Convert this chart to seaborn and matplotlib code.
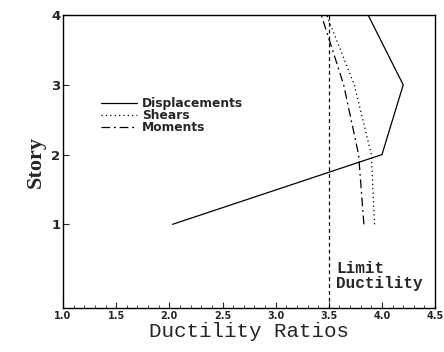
import matplotlib
matplotlib.use("Agg")
import matplotlib.pyplot as plt
import numpy as np
import pandas as pd
import seaborn as sns
from matplotlib.ticker import MultipleLocator

stories = [1, 2, 3, 4]
displacements = [2.03, 4.0, 4.2, 3.87]
shears = [3.93, 3.90, 3.74, 3.48]
moments = [3.83, 3.78, 3.64, 3.43]
limit_ductility = 3.5
x_ticks = [1.0, 1.5, 2.0, 2.5, 3.0, 3.5, 4.0, 4.5]

df = pd.concat([
    pd.DataFrame({"ductility": displacements, "story": stories, "type": "Displacements"}),
    pd.DataFrame({"ductility": shears, "story": stories, "type": "Shears"}),
    pd.DataFrame({"ductility": moments, "story": stories, "type": "Moments"}),
], ignore_index=True)

sns.set_style("ticks")
plt.rcParams["font.family"] = ["DejaVu Sans"]

fig = plt.figure(figsize=(4.44, 3.52), dpi=100)
ax = fig.add_axes([0.142, 0.125, 0.838, 0.832])

sns.lineplot(data=df, x="ductility", y="story", hue="type", style="type",
             palette=["black"] * 3, sort=False, estimator=None, linewidth=0.9,
             dashes={"Displacements": "", "Shears": (1, 2.5), "Moments": (7, 3, 1.5, 3)},
             ax=ax)

ax.axvline(limit_ductility, color="black", linestyle=(0, (3, 2.5)), linewidth=0.9)
ax.text(3.57, 0.05, "Limit\nDuctility", fontsize=11.5, fontweight="bold",
        family="Liberation Mono", linespacing=1.0, va="bottom", ha="left")

ax.set_xlim(1.0, 4.5)
ax.set_ylim(-0.2, 4.0)
ax.set_xticks(x_ticks)
ax.set_xticklabels([f"{t:.1f}" for t in x_ticks], fontsize=7, fontweight="bold")
ax.xaxis.set_minor_locator(MultipleLocator(0.1))
ax.set_yticks(stories)
ax.set_yticklabels([str(s) for s in stories], fontsize=9.5, fontweight="bold")
ax.tick_params(axis="both", which="major", direction="in", length=4, width=0.8, pad=2)
ax.tick_params(axis="x", which="minor", direction="in", length=2, width=0.6)
for spine in ax.spines.values():
    spine.set_visible(True)
    spine.set_linewidth(1.0)
    spine.set_color("black")

ax.set_xlabel("Ductility Ratios", fontsize=15, family="Liberation Mono", labelpad=1)
ax.set_ylabel("Story", fontsize=16, fontweight="bold", family="Liberation Serif", labelpad=4)

leg = ax.legend(loc="upper left", bbox_to_anchor=(0.085, 0.74), frameon=False,
                fontsize=8.8, handlelength=3.0, labelspacing=-0.1, handletextpad=0.4,
                borderpad=0.0)
for t in leg.get_texts():
    t.set_fontweight("bold")
for h in leg.get_lines():
    h.set_linewidth(0.9)

fig.savefig("out.png", dpi=100)
